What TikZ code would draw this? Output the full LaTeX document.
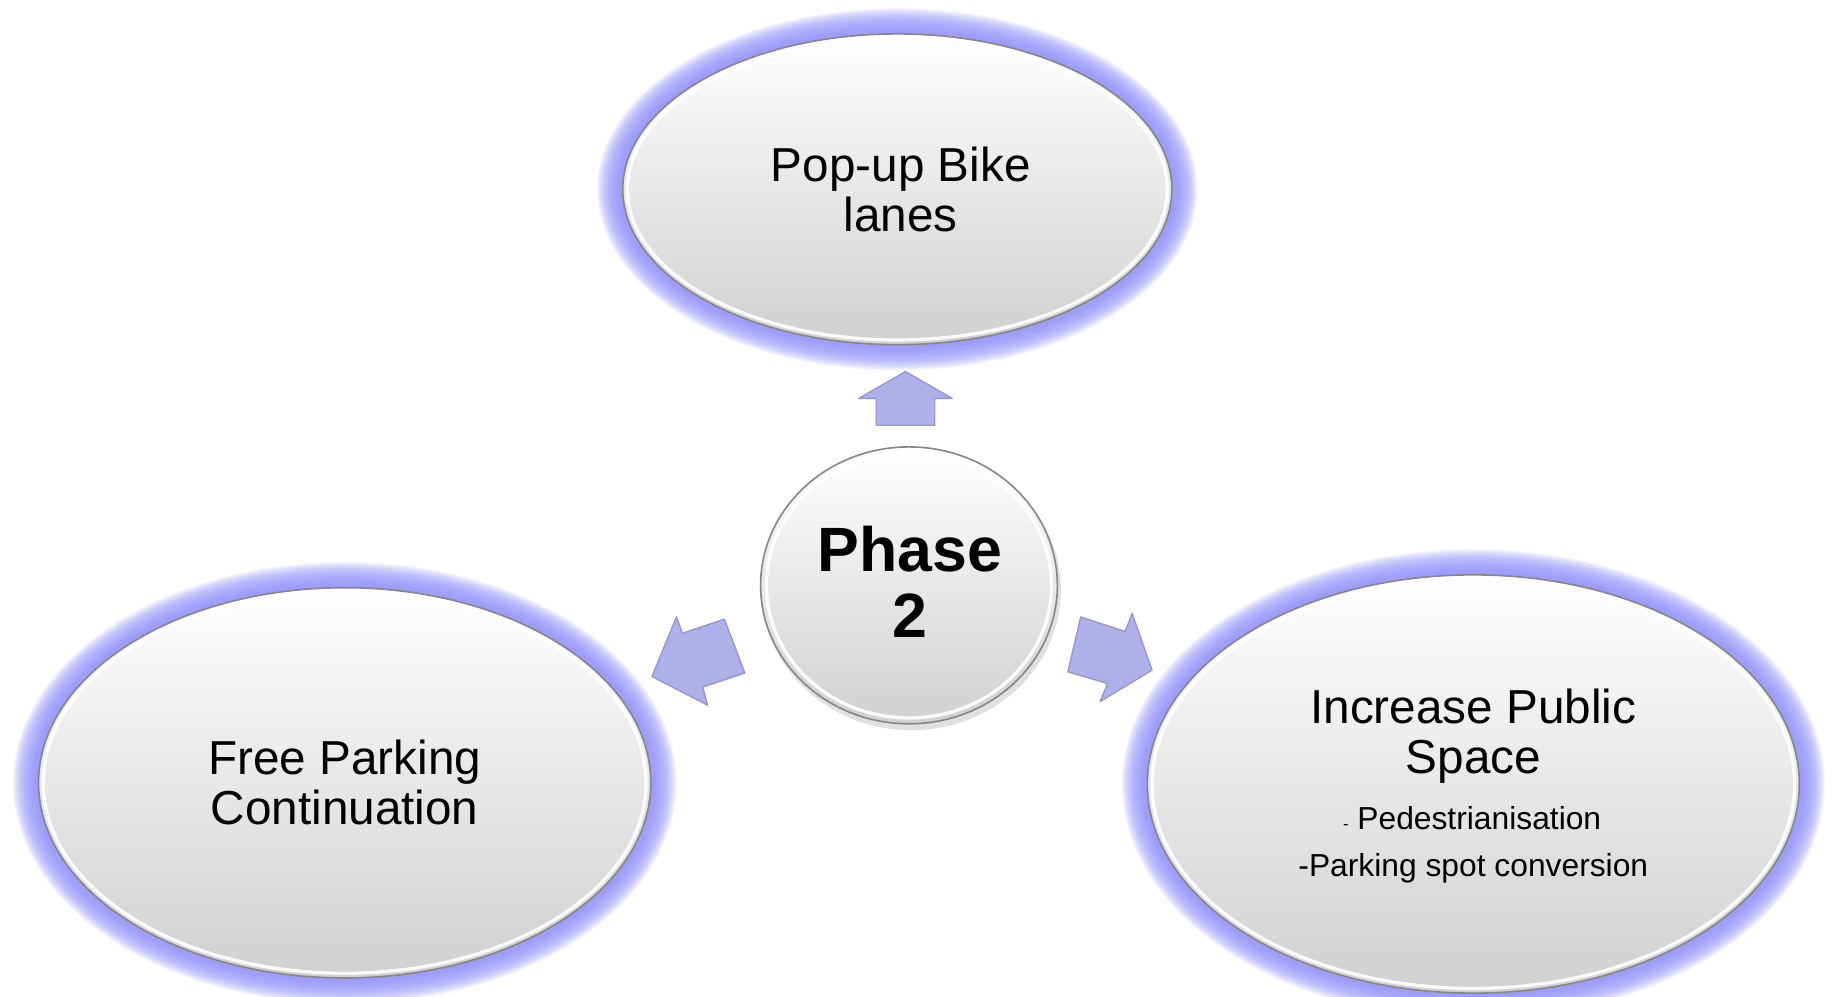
\documentclass[tikz,border=0pt]{standalone}
\usepackage{fontspec}
\setmainfont{Liberation Sans}
\usetikzlibrary{shapes.geometric}
\definecolor{glowc}{RGB}{150,150,252}
\definecolor{arrowfill}{RGB}{176,176,232}
\definecolor{arrowdraw}{RGB}{150,150,214}
\definecolor{rimc}{RGB}{135,135,135}
\definecolor{fillbot}{RGB}{208,208,208}
\tikzset{
  bubble/.style={ellipse, draw=rimc, line width=0.7pt, inner sep=0pt,
    top color=white, bottom color=fillbot},
  bigtxt/.style={anchor=base, inner sep=0pt, font=\fontsize{20.4}{21.5}\selectfont},
  smalltxt/.style={anchor=base, inner sep=0pt, font=\fontsize{13.6}{16}\selectfont},
  phasetxt/.style={anchor=base, inner sep=0pt, font=\fontsize{26.8}{28.5}\selectfont\bfseries},
  blockarrow/.style={fill=arrowfill, draw=arrowdraw, line width=0.6pt, line join=round},
  bevel/.style={draw=white, line width=1.4pt, opacity=0.9}
}
\newcommand{\glowring}[3]{%
  \foreach \k in {22,...,1}{%
    \fill[glowc, opacity=0.1] (#1) ellipse [x radius={#2+\k}, y radius={#3+\k}];
  }%
}
\begin{document}
\begin{tikzpicture}[x=0.5pt,y=-0.5pt]
\useasboundingbox (0,0) rectangle (1568,853);
\fill[white] (0,0) rectangle (1568,853);

% centres
\coordinate (ctop) at (768,162);
\coordinate (cleft) at (295,670);
\coordinate (cright) at (1261,671);
\coordinate (ccen) at (778,501);

% glows
\glowring{ctop}{235}{133}
\glowring{cleft}{262}{167}
\glowring{cright}{279}{179}

% ellipses
\node[bubble, minimum width=235pt, minimum height=133pt] (top) at (ctop) {};
\draw[bevel] (ctop) ellipse [x radius=231, y radius=129];
\node[bubble, minimum width=262pt, minimum height=167pt] (left) at (cleft) {};
\draw[bevel] (cleft) ellipse [x radius=258, y radius=163];
\node[bubble, minimum width=279pt, minimum height=179pt] (right) at (cright) {};
\draw[bevel] (cright) ellipse [x radius=275, y radius=175];

% centre circle with slight shadow
\fill[black, opacity=0.12] ([shift={(2,4)}]ccen) ellipse [x radius=128, y radius=120];
\node[bubble, minimum width=127pt, minimum height=118.5pt] (cen) at (ccen) {};
\draw[bevel] (ccen) ellipse [x radius=122, y radius=113.5];

% texts
\node[bigtxt] (t1) at (771,155) {Pop-up Bike};
\node[bigtxt] (t2) at (771,198) {lanes};
\node[bigtxt] (l1) at (295,663) {Free Parking};
\node[bigtxt] (l2) at (295,706) {Continuation};
\node[bigtxt] (r1) at (1261,619) {Increase Public};
\node[bigtxt] (r2) at (1261,662) {Space};
\node[smalltxt] (r3) at (1260,710) {{\fontsize{7}{8}\selectfont -} Pedestrianisation};
\node[smalltxt] (r4) at (1261,750) {-Parking spot conversion};
\node[phasetxt] (p1) at (779,489) {Phase};
\node[phasetxt] (p2) at (779,546) {2};

% block arrows
\draw[blockarrow] (775,318) -- (815,341) -- (800,341) -- (800,364) -- (750,364) -- (750,341) -- (735,341) -- cycle;
\draw[blockarrow] (558,579) -- (579,528) -- (584,542) -- (620,530) -- (637.5,576) -- (601.5,588) -- (605.5,603.5) -- cycle;
\draw[blockarrow] (986,573.5) -- (969,525) -- (963,540.5) -- (925,528) -- (914,575) -- (948,585) -- (941.5,600.5) -- cycle;
\end{tikzpicture}
\end{document}
